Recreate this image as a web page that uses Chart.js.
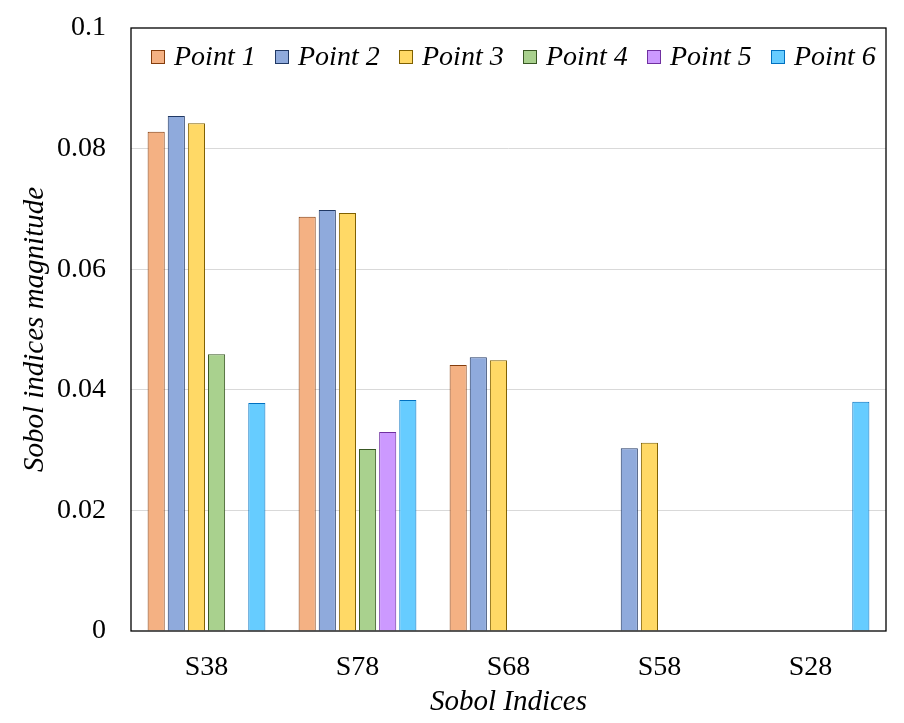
<!DOCTYPE html>
<html>
<head>
<meta charset="utf-8">
<script src="https://cdn.jsdelivr.net/npm/chart.js@4"></script>
<style>
  html, body { margin: 0; padding: 0; background: #fff; }
  #wrap { width: 904px; height: 723px; }
</style>
</head>
<body>
<div id="wrap"><canvas id="sobolChart"></canvas></div>
<script>
// Chart data
const categories = ['S38', 'S78', 'S68', 'S58', 'S28'];
const pointLabels = ['Point 1', 'Point 2', 'Point 3', 'Point 4', 'Point 5', 'Point 6'];
const point1 = [0.0828, 0.0687, 0.0441, null, null];
const point2 = [0.0854, 0.0698, 0.0454, 0.0303, null];
const point3 = [0.0842, 0.0693, 0.0449, 0.0312, null];
const point4 = [0.0459, 0.0302, null, null, null];
const point5 = [null, 0.0330, null, null, null];
const point6 = [0.0378, 0.0383, null, null, 0.0380];
const yTicks = [0, 0.02, 0.04, 0.06, 0.08, 0.1];
const yTickLabels = ['0', '0.02', '0.04', '0.06', '0.08', '0.1'];

const fills = ['#F4B183', '#8FAADC', '#FFD966', '#A9D18E', '#CC99FF', '#66CCFF'];
const borders = ['#843C0C', '#203864', '#7F6000', '#385723', '#7030A0', '#0070C0'];
const series = [point1, point2, point3, point4, point5, point6];

const SERIF = '"Liberation Serif", "DejaVu Serif", serif';

// frame around the plot + legend inside the top of the plot
const framePlugin = {
    id: 'frame',
    afterDraw(chart) {
        const ctx = chart.ctx;
        const a = chart.chartArea;
        ctx.save();
        ctx.strokeStyle = '#000';
        ctx.lineWidth = 1.3;
        ctx.strokeRect(a.left, a.top, a.right - a.left, a.bottom - a.top);

        // legend
        ctx.font = 'italic 28px ' + SERIF;
        ctx.textBaseline = 'middle';
        const y = 57;
        let x = a.left + 20;
        chart.data.datasets.forEach((ds, i) => {
            ctx.fillStyle = ds.backgroundColor;
            ctx.fillRect(x, y - 7, 14, 14);
            ctx.strokeStyle = ds.borderColor;
            ctx.lineWidth = 1;
            ctx.strokeRect(x + 0.5, y - 6.5, 13, 13);
            ctx.fillStyle = '#000';
            ctx.fillText(ds.label, x + 23, y + 1);
            x += 124;
        });
        ctx.restore();
    }
};

new Chart(document.getElementById('sobolChart'), {
    type: 'bar',
    data: {
        labels: categories,
        datasets: series.map((s, i) => ({
            label: pointLabels[i],
            data: s,
            backgroundColor: fills[i],
            borderColor: borders[i],
            borderWidth: 1,
            categoryPercentage: 0.8,
            barPercentage: 0.85
        }))
    },
    options: {
        responsive: true,
        maintainAspectRatio: false,
        animation: false,
        layout: { padding: { top: 28, right: 18, left: 18, bottom: 0 } },
        plugins: {
            legend: { display: false },
            tooltip: { enabled: false }
        },
        scales: {
            x: {
                grid: { display: false, drawTicks: false },
                border: { display: false },
                ticks: {
                    color: '#000',
                    padding: 20,
                    font: { family: SERIF, size: 28 }
                },
                title: {
                    display: true,
                    text: 'Sobol Indices',
                    color: '#000',
                    padding: { top: 4, bottom: 3 },
                    font: { family: SERIF, size: 29, style: 'italic' }
                },
                afterFit(scale) { scale.height = 92; scale.paddingLeft = 0; scale.paddingRight = 0; }
            },
            y: {
                min: 0,
                max: 0.1,
                afterBuildTicks(scale) {
                    scale.ticks = yTicks.map(v => ({ value: v }));
                },
                grid: {
                    drawTicks: false,
                    color: ctx => (ctx.tick && (ctx.tick.value === 0 || ctx.tick.value === 0.1)) ? 'rgba(0,0,0,0)' : '#d9d9d9',
                    lineWidth: 1
                },
                border: { display: false },
                ticks: {
                    color: '#000',
                    padding: 25,
                    font: { family: SERIF, size: 28 },
                    callback: (value) => {
                        const idx = yTicks.findIndex(t => Math.abs(t - value) < 1e-9);
                        return idx >= 0 ? yTickLabels[idx] : '';
                    }
                },
                title: {
                    display: true,
                    text: 'Sobol indices magnitude',
                    color: '#000',
                    padding: { top: 0, bottom: 0 },
                    font: { family: SERIF, size: 29, style: 'italic' }
                },
                afterFit(scale) { scale.width = 113; scale.paddingTop = 0; scale.paddingBottom = 0; }
            }
        }
    },
    plugins: [framePlugin]
});
</script>
</body>
</html>
